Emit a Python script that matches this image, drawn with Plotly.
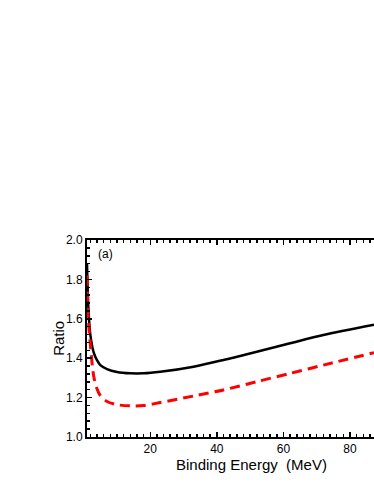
import plotly.graph_objects as go

# Data
energy_black = [1.0, 1.4, 2.0, 3.0, 4.0, 5.0, 7.0, 10.0, 14.0, 18.0, 23.0, 33.0, 42.0, 52.0, 62.0, 72.0, 87.2]
ratio_black = [1.88, 1.66, 1.52, 1.43, 1.39, 1.365, 1.345, 1.330, 1.323, 1.323, 1.331, 1.357, 1.391, 1.433, 1.476, 1.518, 1.570]

energy_red = [1.0, 1.4, 2.0, 3.0, 4.0, 5.0, 7.0, 10.0, 14.0, 18.0, 23.0, 33.0, 42.0, 52.0, 62.0, 72.0, 87.2]
ratio_red = [1.82, 1.60, 1.47, 1.31, 1.245, 1.21, 1.18, 1.164, 1.158, 1.160, 1.175, 1.208, 1.239, 1.281, 1.323, 1.365, 1.428]

x_ticks = [20, 40, 60, 80]
y_ticks = [1.0, 1.2, 1.4, 1.6, 1.8, 2.0]

FONT = "Liberation Sans, Arial, sans-serif"

fig = go.Figure()
fig.add_trace(go.Scatter(x=energy_black, y=ratio_black, mode="lines",
                         line=dict(color="#000000", width=2.5, shape="spline", smoothing=0.8),
                         showlegend=False, hoverinfo="skip"))
fig.add_trace(go.Scatter(x=energy_red, y=ratio_red, mode="lines",
                         line=dict(color="#ff0000", width=3, dash="10px,6px", shape="spline", smoothing=0.8),
                         showlegend=False, hoverinfo="skip"))

fig.update_layout(
    width=374, height=484,
    margin=dict(l=87, r=0, t=240, b=47),
    paper_bgcolor="white", plot_bgcolor="white",
    font=dict(family=FONT, color="black", size=12),
    xaxis=dict(range=[1, 87.2], tickvals=x_ticks, ticks="inside", ticklen=5, tickwidth=1.5,
               tickcolor="black", showline=True, linewidth=2, linecolor="black", mirror="ticks",
               showgrid=False, zeroline=False, tickfont=dict(size=12, family=FONT),
               minor=dict(dtick=2, ticks="inside", ticklen=3, tickwidth=1.5, tickcolor="black", showgrid=False)),
    yaxis=dict(range=[1.0, 2.0], tickvals=y_ticks, ticktext=["1.0", "1.2", "1.4", "1.6", "1.8", "2.0"],
               ticks="inside", ticklen=5, tickwidth=1.5,
               tickcolor="black", showline=True, linewidth=2, linecolor="black", mirror=False,
               showgrid=False, zeroline=False, tickfont=dict(size=12, family=FONT),
               minor=dict(dtick=0.04, ticks="inside", ticklen=3, tickwidth=1.5, tickcolor="black", showgrid=False)),
    annotations=[
        dict(text="Binding Energy\u00a0 (MeV)", xref="paper", yref="paper", x=0.572, y=-0.085,
             xanchor="center", yanchor="top", showarrow=False, font=dict(size=15, family=FONT)),
        dict(text="Ratio", xref="paper", yref="paper", x=-0.1, y=0.5, textangle=-90,
             xanchor="center", yanchor="middle", showarrow=False, font=dict(size=15, family=FONT)),
        dict(text="(a)", xref="paper", yref="paper", x=0.03, y=0.975,
             xanchor="left", yanchor="top", showarrow=False, font=dict(size=12, family=FONT)),
    ],
)

page_fix = ("document.documentElement.style.margin='0';document.documentElement.style.overflow='hidden';"
            "document.body.style.margin='0';document.body.style.padding='0';document.body.style.overflow='hidden';")

fig.write_html("out.html", post_script=page_fix,
               config={"responsive": False, "displayModeBar": False, "staticPlot": True})
